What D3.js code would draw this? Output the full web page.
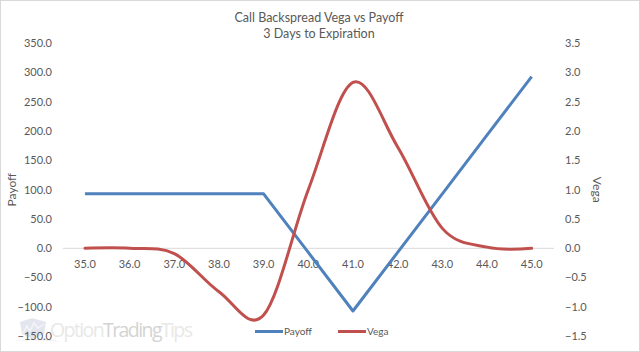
<!DOCTYPE html>
<html>
<head>
<meta charset="utf-8">
<script src="https://cdn.jsdelivr.net/npm/d3@7"></script>
<style>
  body { margin: 0; background: #fff; }
  svg text { font-family: Lato, "Open Sans", sans-serif; fill: #595959; }
</style>
</head>
<body>
<div class="chart"></div>
<script>
// Chart values
const strikes = [35, 36, 37, 38, 39, 40, 41, 42, 43, 44, 45]
const payoff = [93, 93, 93, 93, 93, -7, -107, -7, 93, 193, 293]
const vega = [0, 0, -0.09, -0.74, -1.14, 1.0, 2.83, 1.73, 0.34, 0.02, 0]
const payoffTicks = [-150, -100, -50, 0, 50, 100, 150, 200, 250, 300, 350]
const vegaTicks = [-1.5, -1, -0.5, 0, 0.5, 1, 1.5, 2, 2.5, 3, 3.5]

const draw_chart = () => {
    const width = 640, height = 352
    const plot = {left: 62.6, right: 554, top: 43.2, bottom: 336.2}

    const svg = d3.select('.chart').append('svg')
        .attr('width', width)
        .attr('height', height)

    // Outer frame
    svg.append('rect')
        .attr('x', 0.5).attr('y', 0.5)
        .attr('width', width - 1).attr('height', height - 1)
        .attr('fill', '#fff')
        .attr('stroke', '#d9d9d9')

    // Scales
    const xScale = d3.scalePoint()
        .domain(strikes)
        .range([plot.left, plot.right])
        .padding(0.5)

    const yLeft = d3.scaleLinear()
        .domain([-150, 350])
        .range([plot.bottom, plot.top])

    const yRight = d3.scaleLinear()
        .domain([-1.5, 3.5])
        .range([plot.bottom, plot.top])

    // Watermark
    const wm = svg.append('g').attr('class', 'watermark')
    wm.append('path')
        .attr('d', 'M20,322 L32,318 L46,322 L44,334 L33,339 L22,334 Z')
        .attr('fill', '#e3e6ee')
    wm.append('path')
        .attr('d', 'M23,333 L27,326 L30,331 L34,323 L38,328 L44,324')
        .attr('fill', 'none')
        .attr('stroke', '#f4f5f8')
        .attr('stroke-width', 1.5)
    wm.append('path')
        .attr('d', 'M16,341 Q40,336 62,342 Q40,339 16,341 Z')
        .attr('fill', '#eeeeee')
    const wmText = wm.append('text')
        .attr('x', 50)
        .attr('y', 337)
        .style('font-family', '"Open Sans", sans-serif')
        .style('font-size', '19.5px')
        .attr('textLength', 143)
    wmText.append('tspan').text('Option').style('fill', '#e8e8e8')
    wmText.append('tspan').text('Trading').style('fill', '#d4d4d4')
    wmText.append('tspan').text('Tips').style('fill', '#e8e8e8')

    // Zero axis line
    svg.append('line')
        .attr('x1', plot.left)
        .attr('x2', plot.right)
        .attr('y1', yLeft(0))
        .attr('y2', yLeft(0))
        .attr('stroke', '#d9d9d9')
        .attr('stroke-width', 1)

    // Left axis labels
    svg.append('g')
        .selectAll('text')
        .data(payoffTicks)
        .enter()
        .append('text')
            .attr('x', 52)
            .attr('y', d => yLeft(d))
            .attr('dy', '0.35em')
            .attr('text-anchor', 'end')
            .style('font-size', '11px')
            .text(d => d3.format('.1f')(d))

    // Right axis labels
    svg.append('g')
        .selectAll('text')
        .data(vegaTicks)
        .enter()
        .append('text')
            .attr('x', 565)
            .attr('y', d => yRight(d))
            .attr('dy', '0.35em')
            .style('font-size', '11px')
            .text(d => d3.format('.1f')(d))

    // Category labels
    svg.append('g')
        .selectAll('text')
        .data(strikes)
        .enter()
        .append('text')
            .attr('x', d => xScale(d))
            .attr('y', 264.5)
            .attr('dy', '0.35em')
            .attr('text-anchor', 'middle')
            .style('font-size', '11px')
            .text(d => d3.format('.1f')(d))

    // Payoff line
    const payoffLine = d3.line()
        .x((d, i) => xScale(strikes[i]))
        .y(d => yLeft(d))
    svg.append('path')
        .datum(payoff)
        .attr('d', payoffLine)
        .attr('fill', 'none')
        .attr('stroke', '#4f81bd')
        .attr('stroke-width', 3)
        .attr('stroke-linejoin', 'round')

    // Vega line, smoothed like the spreadsheet
    const vegaLine = d3.line()
        .x((d, i) => xScale(strikes[i]))
        .y(d => yRight(d))
        .curve(d3.curveCardinal.tension(0))
    svg.append('path')
        .datum(vega)
        .attr('d', vegaLine)
        .attr('fill', 'none')
        .attr('stroke', '#c0504d')
        .attr('stroke-width', 3)
        .attr('stroke-linecap', 'round')

    // Title
    svg.append('text')
        .attr('x', 319)
        .attr('y', 22)
        .attr('text-anchor', 'middle')
        .style('font-size', '12.5px')
        .text('Call Backspread Vega vs Payoff')
    svg.append('text')
        .attr('x', 319)
        .attr('y', 37.5)
        .attr('text-anchor', 'middle')
        .style('font-size', '12.5px')
        .text('3 Days to Expiration')

    // Axis titles
    svg.append('text')
        .attr('transform', `translate(12, ${(plot.top + plot.bottom) / 2}) rotate(-90)`)
        .attr('dy', '0.35em')
        .attr('text-anchor', 'middle')
        .style('font-size', '12px')
        .text('Payoff')
    svg.append('text')
        .attr('transform', `translate(597, ${(plot.top + plot.bottom) / 2}) rotate(90)`)
        .attr('dy', '0.35em')
        .attr('text-anchor', 'middle')
        .style('font-size', '12px')
        .text('Vega')

    // Legend
    const legendItems = [
        {name: 'Payoff', color: '#4f81bd', x: 255},
        {name: 'Vega', color: '#c0504d', x: 338}
    ]
    const legend = svg.append('g').attr('class', 'legend')
    legend.selectAll('line')
        .data(legendItems)
        .enter()
        .append('line')
            .attr('x1', d => d.x)
            .attr('x2', d => d.x + 28)
            .attr('y1', 331.5)
            .attr('y2', 331.5)
            .attr('stroke', d => d.color)
            .attr('stroke-width', 3)
    legend.selectAll('text')
        .data(legendItems)
        .enter()
        .append('text')
            .attr('x', d => d.x + 29)
            .attr('y', 331.5)
            .attr('dy', '0.35em')
            .style('font-size', '10px')
            .text(d => d.name)
}

draw_chart()
</script>
</body>
</html>
